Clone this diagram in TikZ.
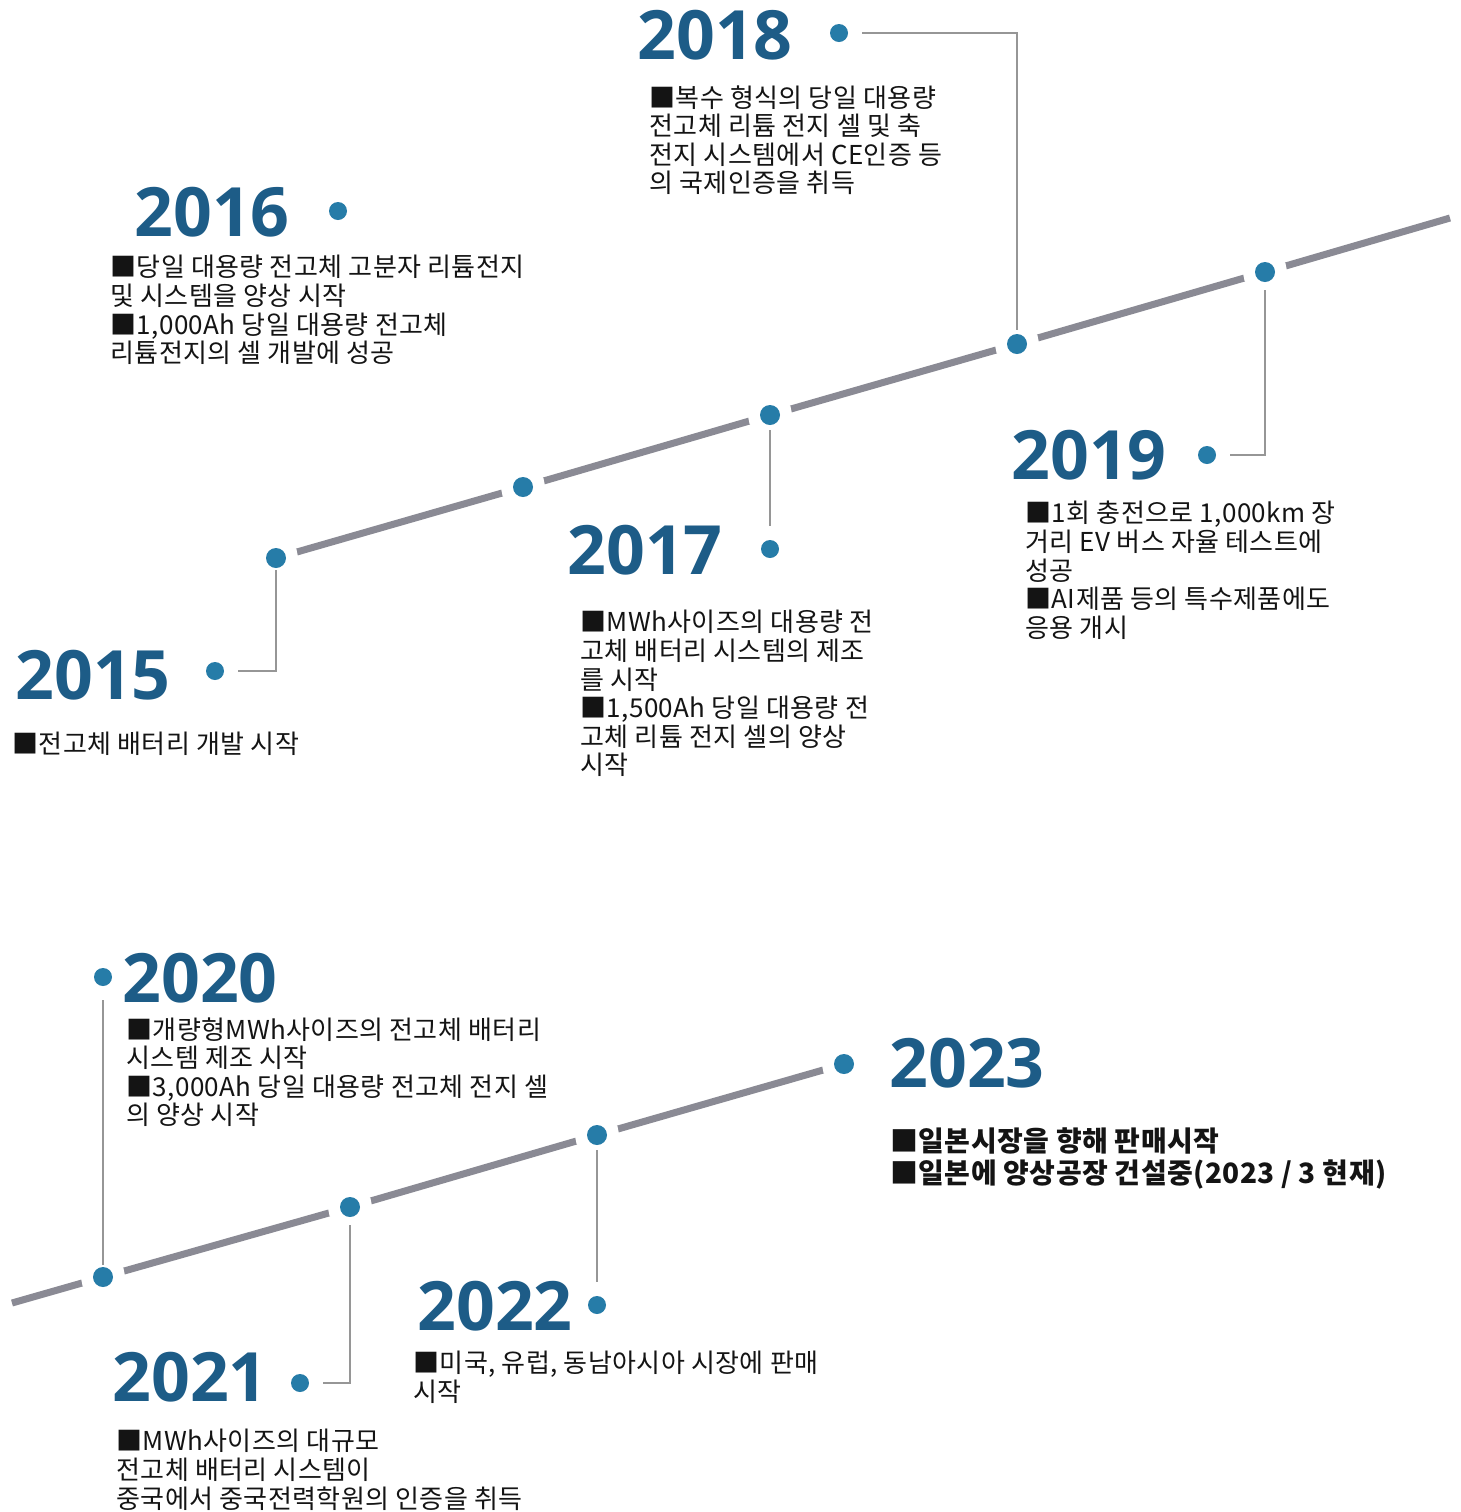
\documentclass[tikz,border=0pt]{standalone}
\usepackage{fontspec}
\setmainfont{Noto Sans CJK KR}[LetterSpace=1.5]
\newfontfamily\yrfont{Open Sans}
\usetikzlibrary{backgrounds}
\definecolor{yearblue}{RGB}{29,92,135}
\definecolor{dotblue}{RGB}{38,124,168}
\definecolor{linegray}{RGB}{138,138,148}
\definecolor{conngray}{RGB}{150,150,150}
\definecolor{txt}{RGB}{20,20,20}
\tikzset{
  ldot/.style={circle, fill=dotblue, minimum size=10pt, inner sep=0pt,
    preaction={draw=white, line width=12pt}},
  ydot/.style={circle, fill=dotblue, minimum size=9pt, inner sep=0pt, outer sep=7pt},
  tline/.style={draw=linegray, line width=3.5pt},
  conn/.style={draw=conngray, line width=1pt},
  year/.style={font=\yrfont\bfseries\fontsize{34pt}{34pt}\selectfont, text=yearblue, inner sep=0pt},
  desc/.style={font=\fontsize{13pt}{14.3pt}\selectfont, text=txt, align=left, anchor=north west, inner sep=0pt},
  descb/.style={font=\bfseries\fontsize{14pt}{16pt}\selectfont, text=txt, align=left, anchor=north west, inner sep=0pt}
}
\begin{document}
\begin{tikzpicture}[x=0.5pt,y=-0.5pt]
\useasboundingbox (0,0) rectangle (1461,1512);
% dots on the upper timeline
\node[ldot] (a1) at (276,558) {};
\node[ldot] (a2) at (523,487) {};
\node[ldot] (a3) at (770,415) {};
\node[ldot] (a4) at (1017,344) {};
\node[ldot] (a5) at (1265,272) {};
\coordinate (aend) at (1450,218);
% dots on the lower timeline
\coordinate (bstart) at (12,1303);
\node[ldot] (b1) at (103,1277) {};
\node[ldot] (b2) at (350,1207) {};
\node[ldot] (b3) at (597,1135) {};
\node[ldot] (b4) at (844,1064) {};
% timelines (behind dots)
\begin{scope}[on background layer]
  \fill[white] (0,0) rectangle (1461,1512);
  \draw[tline] (a1.center) -- (a2.center) -- (a3.center) -- (a4.center) -- (a5.center) -- (aend);
  \draw[tline] (bstart) -- (b1.center) -- (b2.center) -- (b3.center) -- (b4.center);
\end{scope}
% year dots
\node[ydot] (y15) at (215,671) {};
\node[ydot] (y16) at (338,211) {};
\node[ydot] (y17) at (770,549) {};
\node[ydot] (y18) at (839,33) {};
\node[ydot] (y19) at (1207,455) {};
\node[ydot] (y20) at (103,977) {};
\node[ydot] (y21) at (300,1383) {};
\node[ydot] (y22) at (597,1305) {};
% years
\node[year] (t15) at (93,675) {2015};
\node[year] (t16) at (212,212) {2016};
\node[year] (t17) at (645,550) {2017};
\node[year] (t18) at (715,35) {2018};
\node[year] (t19) at (1089,455) {2019};
\node[year] (t20) at (200,978) {2020};
\node[year] (t21) at (190,1377) {2021};
\node[year] (t22) at (495,1306) {2022};
\node[year] (t23) at (967,1063) {2023};
% connectors
\draw[conn, shorten >=6pt] (y15) -| (a1.center);
\draw[conn, shorten <=7.5pt] (a3.center) -- (y17);
\draw[conn, shorten >=7pt] (y18) -| (a4.center);
\draw[conn, shorten >=9pt] (y19) -| (a5.center);
\draw[conn, shorten >=6pt] (y20) -- (b1.center);
\draw[conn, shorten >=9pt] (y21) -| (b2.center);
\draw[conn, shorten <=7.5pt] (b3.center) -- (y22);
% descriptions
\node[desc] (d15) at (12,732) {■전고체 배터리 개발 시작};
\node[desc] (d16) at (110,255) {■당일 대용량 전고체 고분자 리튬전지\\및 시스템을 양상 시작\\■1,000Ah 당일 대용량 전고체\\리튬전지의 셀 개발에 성공};
\node[desc] (d17) at (580,610) {■MWh사이즈의 대용량 전\\고체 배터리 시스템의 제조\\를 시작\\■1,500Ah 당일 대용량 전\\고체 리튬 전지 셀의 양상\\시작};
\node[desc] (d18) at (649,85) {■복수 형식의 당일 대용량\\전고체 리튬 전지 셀 및 축\\전지 시스템에서 CE인증 등\\의 국제인증을 취득};
\node[desc] (d19) at (1025,501) {■1회 충전으로 1,000km 장\\거리 EV 버스 자율 테스트에\\성공\\■AI제품 등의 특수제품에도\\응용 개시};
\node[desc] (d20) at (126,1017) {■개량형MWh사이즈의 전고체 배터리\\시스템 제조 시작\\■3,000Ah 당일 대용량 전고체 전지 셀\\의 양상 시작};
\node[desc] (d21) at (116,1429) {■MWh사이즈의 대규모\\전고체 배터리 시스템이\\중국에서 중국전력학원의 인증을 취득};
\node[desc] (d22) at (413,1351) {■미국, 유럽, 동남아시아 시장에 판매\\시작};
\node[descb] (d23) at (890,1127) {■일본시장을 향해 판매시작\\■일본에 양상공장 건설중(2023 / 3 현재)};
\end{tikzpicture}
\end{document}
